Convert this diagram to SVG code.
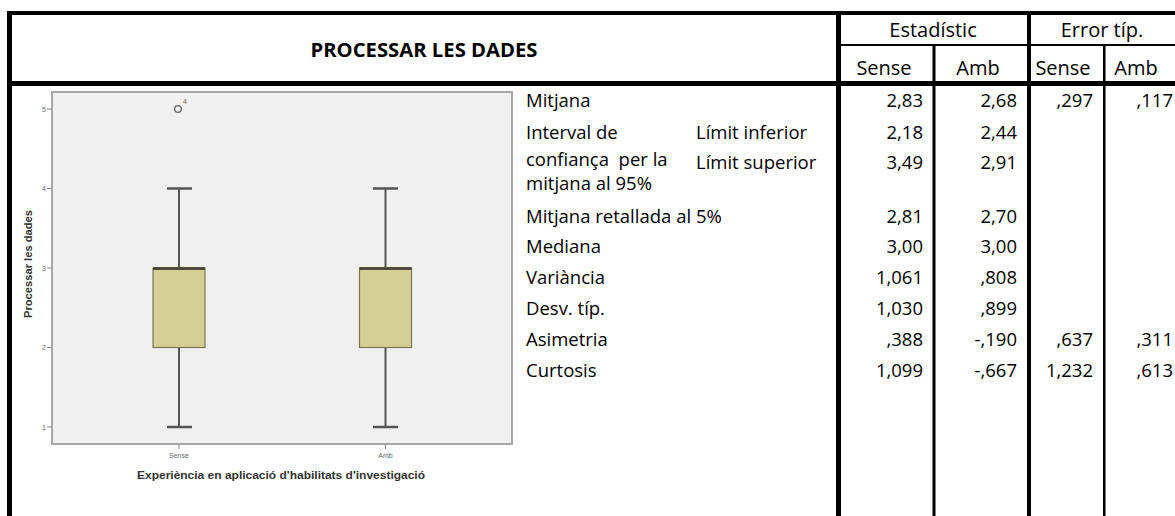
<svg xmlns="http://www.w3.org/2000/svg" width="1175" height="516" viewBox="0 0 1175 516">
<style>
.t{font-family:"Open Sans","Liberation Sans",sans-serif;font-size:18.5px;fill:#000}
.h{font-family:"Open Sans","Liberation Sans",sans-serif;font-size:20px;fill:#000;text-anchor:middle}
.n{text-anchor:end}
.ln{fill:#000}
.ax{font-family:"Liberation Sans",Arial,sans-serif;font-size:7px;fill:#666}
.at{font-family:"Liberation Sans",Arial,sans-serif;font-size:10px;font-weight:bold;fill:#333}
.box{fill:#d4cf96;stroke:#7a7652;stroke-width:1.2}
.wh{stroke:#555;stroke-width:2;fill:none}
.cap{stroke:#555;stroke-width:2.5;fill:none}
.med{stroke:#4e4c38;stroke-width:3}
.tk{stroke:#888;stroke-width:1}
</style>
<rect width="1175" height="516" fill="#fff"/>

<g id="chart">
  <rect x="52" y="92" width="460" height="352" fill="#f0f0f0" stroke="#a8a8a8" stroke-width="2"/>
  <g id="yaxis">
    <line class="tk" x1="47" y1="109" x2="52" y2="109"/>
    <line class="tk" x1="47" y1="188.5" x2="52" y2="188.5"/>
    <line class="tk" x1="47" y1="268" x2="52" y2="268"/>
    <line class="tk" x1="47" y1="347.5" x2="52" y2="347.5"/>
    <line class="tk" x1="47" y1="427" x2="52" y2="427"/>
    <text class="ax" x="46" y="111.5" text-anchor="end">5</text>
    <text class="ax" x="46" y="191" text-anchor="end">4</text>
    <text class="ax" x="46" y="270.5" text-anchor="end">3</text>
    <text class="ax" x="46" y="350" text-anchor="end">2</text>
    <text class="ax" x="46" y="429.5" text-anchor="end">1</text>
    <text class="at" transform="translate(32 264) rotate(-90)" text-anchor="middle" textLength="108" lengthAdjust="spacingAndGlyphs">Processar les dades</text>
  </g>
  <g id="box-sense">
    <line class="wh" x1="179" y1="188.5" x2="179" y2="268"/>
    <line class="wh" x1="179" y1="347.5" x2="179" y2="427"/>
    <line class="cap" x1="167" y1="188.5" x2="192" y2="188.5"/>
    <line class="cap" x1="167" y1="427" x2="192" y2="427"/>
    <rect class="box" x="153" y="268" width="52" height="79.5"/>
    <line class="med" x1="153" y1="268.5" x2="205" y2="268.5"/>
    <circle cx="178" cy="109" r="3.3" fill="none" stroke="#666" stroke-width="1.3"/>
    <text class="ax" x="183" y="104" font-size="5.5">4</text>
  </g>
  <g id="box-amb">
    <line class="wh" x1="385.5" y1="188.5" x2="385.5" y2="268"/>
    <line class="wh" x1="385.5" y1="347.5" x2="385.5" y2="427"/>
    <line class="cap" x1="373" y1="188.5" x2="398" y2="188.5"/>
    <line class="cap" x1="373" y1="427" x2="398" y2="427"/>
    <rect class="box" x="359.5" y="268" width="52" height="79.5"/>
    <line class="med" x1="359.5" y1="268.5" x2="411.5" y2="268.5"/>
  </g>
  <g id="xaxis">
    <line class="tk" x1="179" y1="444" x2="179" y2="449"/>
    <line class="tk" x1="385.5" y1="444" x2="385.5" y2="449"/>
    <text class="ax" x="179" y="458" text-anchor="middle">Sense</text>
    <text class="ax" x="385.5" y="458" text-anchor="middle">Amb</text>
    <text class="at" x="281" y="479" text-anchor="middle" textLength="288" lengthAdjust="spacingAndGlyphs">Experiència en aplicació d'habilitats d'investigació</text>
  </g>
</g>

<g id="table-lines">
  <rect class="ln" x="7" y="11" width="1168" height="4"/>
  <rect class="ln" x="7" y="11" width="5" height="505"/>
  <rect class="ln" x="7" y="81" width="1168" height="5"/>
  <rect class="ln" x="836" y="11" width="5" height="505"/>
  <rect class="ln" x="1027" y="11" width="4" height="505"/>
  <rect class="ln" x="841" y="44" width="334" height="2"/>
  <rect class="ln" x="932.5" y="45" width="3" height="471"/>
  <rect class="ln" x="1103" y="45" width="2.5" height="471"/>
</g>

<g id="header">
  <text x="424" y="57" font-family="'Open Sans','Liberation Sans',sans-serif" font-size="20" font-weight="bold" text-anchor="middle" textLength="227" lengthAdjust="spacingAndGlyphs">PROCESSAR LES DADES</text>
  <text class="h" x="933" y="37">Estadístic</text>
  <text class="h" x="1102" y="37">Error típ.</text>
  <text class="h" x="884" y="75">Sense</text>
  <text class="h" x="978" y="75">Amb</text>
  <text class="h" x="1063" y="75">Sense</text>
  <text class="h" x="1136" y="75">Amb</text>
</g>

<g id="row-labels">
  <text class="t" x="526" y="107">Mitjana</text>
  <text class="t" x="526" y="139">Interval de</text>
  <text class="t" x="526" y="166" style="white-space:pre">confiança  per la</text>
  <text class="t" x="526" y="190">mitjana al 95%</text>
  <text class="t" x="696" y="139">Límit inferior</text>
  <text class="t" x="696" y="169">Límit superior</text>
  <text class="t" x="526" y="223">Mitjana retallada al 5%</text>
  <text class="t" x="526" y="253">Mediana</text>
  <text class="t" x="526" y="284">Variància</text>
  <text class="t" x="526" y="315">Desv. típ.</text>
  <text class="t" x="526" y="346">Asimetria</text>
  <text class="t" x="526" y="377">Curtosis</text>
</g>

<g id="values">
  <text class="t n" x="923" y="107">2,83</text>
  <text class="t n" x="1017" y="107">2,68</text>
  <text class="t n" x="1093" y="107">,297</text>
  <text class="t n" x="1173" y="107">,117</text>
  <text class="t n" x="923" y="139">2,18</text>
  <text class="t n" x="1017" y="139">2,44</text>
  <text class="t n" x="923" y="169">3,49</text>
  <text class="t n" x="1017" y="169">2,91</text>
  <text class="t n" x="923" y="223">2,81</text>
  <text class="t n" x="1017" y="223">2,70</text>
  <text class="t n" x="923" y="253">3,00</text>
  <text class="t n" x="1017" y="253">3,00</text>
  <text class="t n" x="923" y="284">1,061</text>
  <text class="t n" x="1017" y="284">,808</text>
  <text class="t n" x="923" y="315">1,030</text>
  <text class="t n" x="1017" y="315">,899</text>
  <text class="t n" x="923" y="346">,388</text>
  <text class="t n" x="1017" y="346">-,190</text>
  <text class="t n" x="1093" y="346">,637</text>
  <text class="t n" x="1173" y="346">,311</text>
  <text class="t n" x="923" y="377">1,099</text>
  <text class="t n" x="1017" y="377">-,667</text>
  <text class="t n" x="1093" y="377">1,232</text>
  <text class="t n" x="1173" y="377">,613</text>
</g>
</svg>
